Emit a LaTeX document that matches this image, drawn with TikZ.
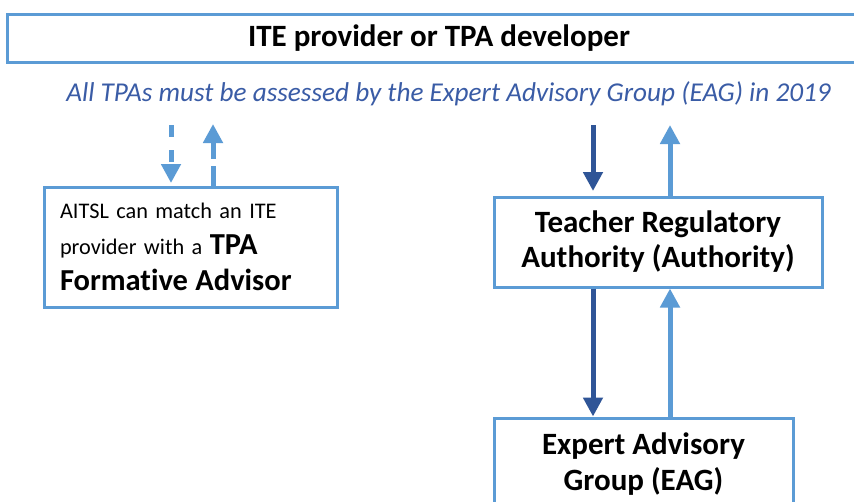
\documentclass[tikz,border=0pt]{standalone}
\usepackage{fontspec}
\setmainfont{Carlito}[Ligatures=NoCommon]
\usetikzlibrary{arrows.meta}
\definecolor{boxblue}{HTML}{5B9BD5}
\definecolor{darkblue}{HTML}{2F5597}
\definecolor{notecol}{HTML}{3A5CA6}
\begin{document}
\begin{tikzpicture}[x=1pt,y=-1pt,
  box/.style={draw=boxblue,line width=3pt,fill=white,rectangle,inner sep=0pt},
  darr/.style={draw=darkblue,line width=5pt,-{Triangle[width=19pt,length=19pt]}},
  larr/.style={draw=boxblue,line width=5pt,-{Triangle[width=19pt,length=19pt]}},
  dashdown/.style={dash pattern=on 12pt off 13pt},
  dashup/.style={dash pattern=on 20pt off 7pt}
]
\useasboundingbox (0,0) rectangle (854,501);
\clip (0,0) rectangle (854,501);
\fill[white] (0,0) rectangle (854,501);

\node[box, minimum width=864pt, minimum height=48pt,
      font=\bfseries\fontsize{31}{35}\selectfont] (top) at (439,38) {ITE provider or TPA developer};

\node[font=\itshape\fontsize{27.2}{30}\selectfont, text=notecol, anchor=base, inner sep=0pt] (note) at (448.5,101)
  {All TPAs must be assessed by the Expert Advisory Group (EAG) in 2019};

\node[box, minimum width=293pt, minimum height=120pt, text width=261pt, align=left,
      font=\fontsize{22.3}{36}\selectfont] (tfa) at (190.5,247)
  {AITSL can match an ITE\\ provider with a {\bfseries\fontsize{30.5}{36}\selectfont TPA}\\
   {\bfseries\fontsize{30.5}{36}\selectfont Formative Advisor}};

\node[box, minimum width=328pt, minimum height=90pt, align=center,
      font=\bfseries\fontsize{31}{35}\selectfont] (tra) at (658,242)
  {Teacher Regulatory\\ Authority (Authority)};

\node[box, minimum width=299pt, minimum height=92pt, align=center,
      font=\bfseries\fontsize{31}{36}\selectfont] (eag) at (643.5,464)
  {Expert Advisory\\ Group (EAG)};

\coordinate (dtop) at (593,125);
\coordinate (ltop) at (670,125);
\coordinate (ddown) at (171,125);
\coordinate (dup) at (213,124);

\draw[darr, shorten >=4.5pt] (dtop) -- (dtop |- tra.north);
\draw[larr] (ltop |- tra.north) -- (ltop);
\draw[darr] (dtop |- tra.south) -- (dtop |- eag.north);
\draw[larr] (ltop |- eag.north) -- (ltop |- tra.south);

\draw[larr, dashdown, shorten >=2.5pt] (ddown) -- (ddown |- tfa.north);
\draw[larr, dashup] (dup |- tfa.north) -- (dup);
\end{tikzpicture}
\end{document}
